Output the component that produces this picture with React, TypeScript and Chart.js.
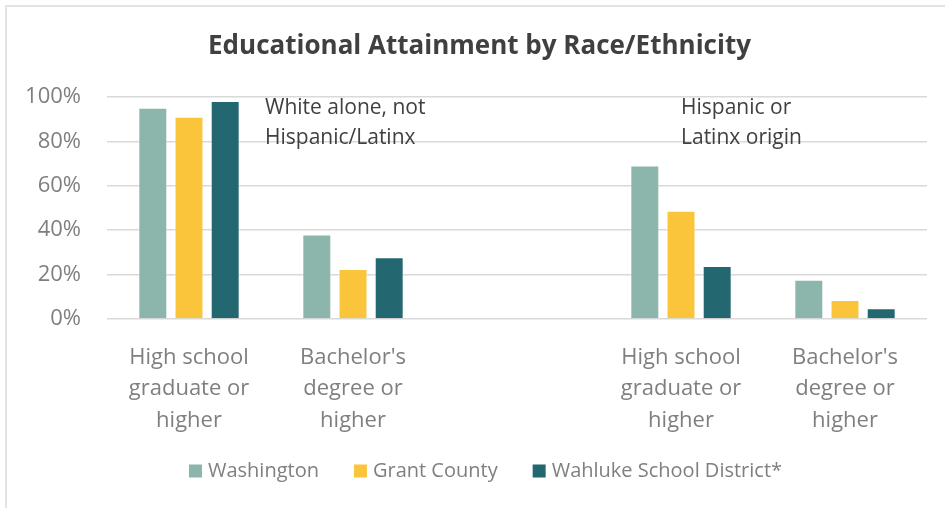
import React, { useEffect, useRef } from "react";
import { Chart, registerables } from "chart.js";

Chart.register(...registerables);

const chartTitle = "Educational Attainment by Race/Ethnicity";
const categories: (string | string[])[] = [
  ["High school", "graduate or", "higher"],
  ["Bachelor's", "degree or", "higher"],
  "",
  ["High school", "graduate or", "higher"],
  ["Bachelor's", "degree or", "higher"],
];
const washington: (number | null)[] = [95.2, 38.1, null, 69.1, 17.7];
const grantCounty: (number | null)[] = [91.1, 22.5, null, 48.8, 8.6];
const wahluke: (number | null)[] = [98.2, 27.8, null, 23.9, 4.8];
const seriesNames = ["Washington", "Grant County", "Wahluke School District*"];
const seriesColors = ["#8CB5AB", "#FAC53A", "#236770"];
const groupNotes = [
  ["White alone, not", "Hispanic/Latinx"],
  ["Hispanic or", "Latinx origin"],
];
const yTicks = [0, 20, 40, 60, 80, 100];

const FONT = "'Open Sans', 'Noto Sans', sans-serif";

const titlePlugin = {
  id: "customTitle",
  afterDraw(chart: any) {
    const { ctx, width } = chart;
    ctx.save();
    ctx.font = `bold 26px ${FONT}`;
    ctx.fillStyle = "#404040";
    ctx.textAlign = "center";
    ctx.textBaseline = "middle";
    ctx.fillText(chartTitle, width / 2 + 7, 47);
    ctx.restore();
  },
};

const notesPlugin = {
  id: "notes",
  afterDatasetsDraw(chart: any) {
    const { ctx, chartArea, scales } = chart;
    const x = scales.x;
    ctx.save();
    ctx.font = `21px ${FONT}`;
    ctx.fillStyle = "#404040";
    ctx.textAlign = "left";
    ctx.textBaseline = "middle";
    const anchors = [x.getPixelForValue(0.5) - 6, x.getPixelForValue(3)];
    groupNotes.forEach((lines, i) => {
      lines.forEach((line, j) => {
        ctx.fillText(line, anchors[i], chartArea.top + 11 + j * 30);
      });
    });
    ctx.restore();
  },
};

const legendPlugin = {
  id: "customLegend",
  afterDraw(chart: any) {
    const { ctx, width } = chart;
    ctx.save();
    ctx.font = `20px ${FONT}`;
    ctx.textBaseline = "middle";
    ctx.textAlign = "left";
    const box = 13;
    const gapText = 6;
    const gapItem = 35;
    const widths = seriesNames.map((n) => box + gapText + ctx.measureText(n).width);
    const total = widths.reduce((a, b) => a + b, 0) + gapItem * (widths.length - 1);
    let xPos = width / 2 + 13 - total / 2;
    const y = 471;
    seriesNames.forEach((n, i) => {
      ctx.fillStyle = seriesColors[i];
      ctx.fillRect(xPos, y - box / 2, box, box);
      ctx.fillStyle = "#7F7F7F";
      ctx.fillText(n, xPos + box + gapText, y);
      xPos += widths[i] + gapItem;
    });
    ctx.restore();
  },
};

export default function App() {
  const ref = useRef<HTMLCanvasElement>(null);
  useEffect(() => {
    document.body.style.margin = "0";
    const data = [washington, grantCounty, wahluke];
    const chart = new Chart(ref.current!, {
      type: "bar",
      data: {
        labels: categories,
        datasets: seriesNames.map((name, i) => ({
          label: name,
          data: data[i],
          backgroundColor: seriesColors[i],
          borderColor: "rgba(255,255,255,0.4)",
          borderWidth: 1,
          barPercentage: 0.8,
          categoryPercentage: 0.662,
        })),
      },
      options: {
        animation: false,
        responsive: false,
        maintainAspectRatio: false,
        layout: { padding: { left: 14, right: 18, top: 97, bottom: 0 } },
        plugins: {
          legend: { display: false },
          tooltip: { enabled: false },
          title: { display: false },
        },
        scales: {
          x: {
            grid: { display: false },
            border: { display: false },
            ticks: {
              color: "#7F7F7F",
              font: { family: FONT, size: 22, lineHeight: 1.43 },
              padding: 15,
              maxRotation: 0,
              autoSkip: false,
            },
            afterFit: (s: any) => {
              s.height = 189;
            },
          },
          y: {
            min: 0,
            max: 100,
            afterBuildTicks: (s: any) => {
              s.ticks = yTicks.map((v) => ({ value: v }));
            },
            grid: { color: "#D9D9D9", lineWidth: 1.5, drawTicks: false },
            border: { display: false },
            ticks: {
              color: "#7F7F7F",
              font: { family: FONT, size: 22 },
              padding: 26,
              callback: (v: any) => v + "%",
            },
            afterFit: (s: any) => {
              s.width = 93;
            },
          },
        },
      },
      plugins: [titlePlugin, notesPlugin, legendPlugin],
    });
    return () => chart.destroy();
  }, []);
  return (
    <div style={{ position: "fixed", left: 0, top: 0, width: 945, height: 508, background: "#fff" }}>
      <div
        style={{
          position: "absolute",
          left: 5,
          top: 5,
          width: 940,
          height: 503,
          borderLeft: "2px solid #E3E3E3",
          borderTop: "2px solid #E3E3E3",
          boxSizing: "border-box",
        }}
      />
      <canvas ref={ref} width={945} height={508} style={{ position: "absolute", left: 0, top: 0 }} />
    </div>
  );
}
